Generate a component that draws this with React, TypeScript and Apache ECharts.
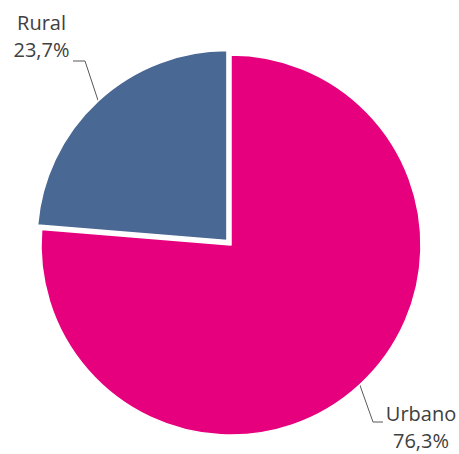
import React, { useEffect, useRef } from "react";
import * as echarts from "echarts";

const categories = ["Urbano", "Rural"];
const values = [76.3, 23.7];
const colors = ["#E6007E", "#4A6894"];
const explodedCategory = "Rural";

export default function App() {
  const ref = useRef<HTMLDivElement>(null);
  useEffect(() => {
    document.body.style.margin = "0";
    const chart = echarts.init(ref.current!, undefined, { renderer: "svg" });
    const labelPos: Record<string, { x: number; y: number; elbow: (p: number[]) => number[][] }> = {
      Rural: {
        x: 41.5,
        y: 36,
        elbow: (p) => [p, [85, 61], [73, 61]],
      },
      Urbano: {
        x: 421,
        y: 426.5,
        elbow: (p) => [p, [373, 422], [383, 422]],
      },
    };
    const cx = 231;
    const cy = 245;
    const off = 6;
    const idx = categories.indexOf(explodedCategory);
    const total = values.reduce((a, b) => a + b, 0);
    let before = 0;
    for (let i = 0; i < idx; i++) before += values[i];
    const midDeg = 90 - ((before + values[idx] / 2) / total) * 360;
    const mid = (midDeg * Math.PI) / 180;
    const ox = Math.cos(mid) * off;
    const oy = -Math.sin(mid) * off;

    const makeSeries = (visible: string, center: number[]) => ({
      type: "pie",
      center,
      radius: 190,
      startAngle: 90,
      clockwise: true,
      avoidLabelOverlap: false,
      silent: true,
      itemStyle: { borderColor: "#ffffff", borderWidth: 1.5 },
      label: {
        show: true,
        fontFamily: "Open Sans",
        fontSize: 20,
        lineHeight: 27,
        color: "#404040",
        align: "center",
        formatter: (p: any) =>
          p.name + "\n" + p.value.toFixed(1).replace(".", ",") + "%",
      },
      labelLine: { show: true, lineStyle: { color: "#595959", width: 1 } },
      emphasis: { disabled: true },
      labelLayout: (params: any) => {
        const name = categories[params.dataIndex];
        const cfg = labelPos[name];
        const start = params.labelLinePoints ? params.labelLinePoints[0] : [0, 0];
        return {
          x: cfg.x,
          y: cfg.y,
          align: "center",
          verticalAlign: "middle",
          labelLinePoints: cfg.elbow(start),
        };
      },
      data: categories.map((c, i) => {
        const show = c === visible;
        return {
          name: c,
          value: values[i],
          itemStyle: show
            ? { color: colors[i] }
            : { color: "transparent", borderColor: "transparent", borderWidth: 0 },
          label: { show },
          labelLine: { show },
        };
      }),
    });

    chart.setOption({
      animation: false,
      backgroundColor: "#ffffff",
      series: [
        makeSeries("Urbano", [cx, cy]),
        makeSeries(explodedCategory, [cx + ox, cy + oy]),
      ],
    });
    return () => chart.dispose();
  }, []);
  return <div ref={ref} style={{ width: 459, height: 454 }} />;
}
